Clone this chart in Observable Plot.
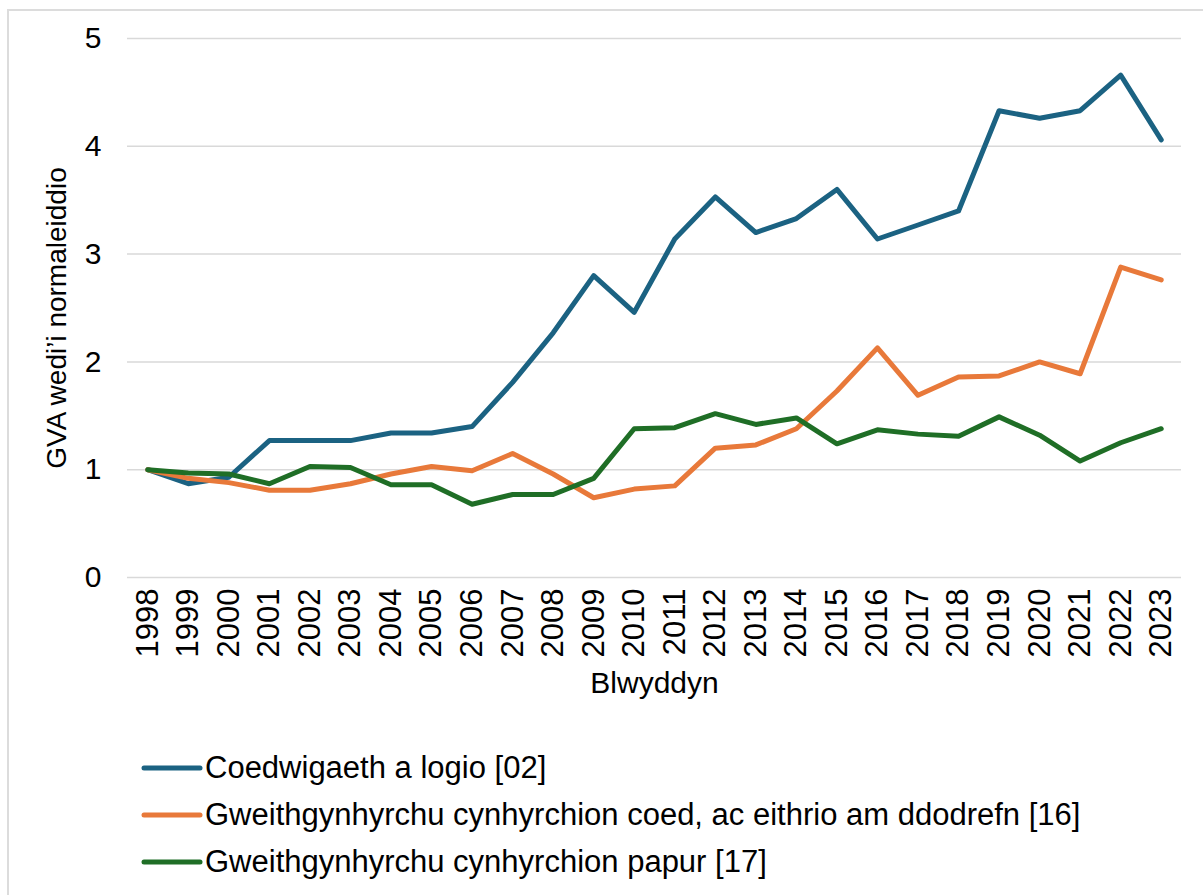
<!DOCTYPE html>
<html>
<head>
<meta charset="utf-8">
<script src="https://cdn.jsdelivr.net/npm/d3@7"></script>
<script src="https://cdn.jsdelivr.net/npm/@observablehq/plot@0.6"></script>
<style>
  body { margin: 0; background: #fff; font-family: "Liberation Sans", Arial, sans-serif; }
  #wrap { position: relative; width: 1203px; height: 895px; overflow: hidden; }
  #frame { position: absolute; left: 7px; top: 9px; width: 1300px; height: 1000px;
           border-left: 2px solid #dcdcdc; border-top: 2px solid #dcdcdc; pointer-events: none; }
  #legend { padding-left: 141px; padding-top: 24px; }
  .row { display: flex; align-items: center; height: 47px; font-size: 31px; color: #000; white-space: nowrap; }
  .row svg { margin-right: 2px; }
</style>
</head>
<body>
<div id="wrap"><div id="frame"></div><div id="chart"></div><div id="legend"></div></div>
<script>
const years = ["1998","1999","2000","2001","2002","2003","2004","2005","2006","2007","2008","2009","2010",
               "2011","2012","2013","2014","2015","2016","2017","2018","2019","2020","2021","2022","2023"];
const seriesNames = [
  "Coedwigaeth a logio [02]",
  "Gweithgynhyrchu cynhyrchion coed, ac eithrio am ddodrefn [16]",
  "Gweithgynhyrchu cynhyrchion papur [17]"
];
const forestry = [1.00,0.87,0.93,1.27,1.27,1.27,1.34,1.34,1.40,1.81,2.27,2.80,2.46,
                  3.14,3.53,3.20,3.33,3.60,3.14,3.27,3.40,4.33,4.26,4.33,4.66,4.06];
const wood     = [1.00,0.92,0.88,0.81,0.81,0.87,0.96,1.03,0.99,1.15,0.96,0.74,0.82,
                  0.85,1.20,1.23,1.38,1.73,2.13,1.69,1.86,1.87,2.00,1.89,2.88,2.76];
const paper    = [1.00,0.97,0.96,0.87,1.03,1.02,0.86,0.86,0.68,0.77,0.77,0.92,1.38,
                  1.39,1.52,1.42,1.48,1.24,1.37,1.33,1.31,1.49,1.32,1.08,1.25,1.38];
const yTicks = [0,1,2,3,4,5];
const colors = ["#1b6282","#e8793a","#1f6e26"];
const yTitle = "GVA wedi\u2019i normaleiddio";
const xTitle = "Blwyddyn";

const allSeries = [forestry, wood, paper];
const table = allSeries.flatMap((vals, s) =>
  vals.map((v, i) => ({year: years[i], value: v, series: seriesNames[s]})));

const chart = Plot.plot({
  width: 1203,
  height: 720,
  marginTop: 38,
  marginLeft: 127,
  marginRight: 22,
  marginBottom: 143,
  style: {fontFamily: "'Liberation Sans', Arial, sans-serif", background: "transparent", color: "#000"},
  x: {type: "point", domain: years, padding: 0.5, round: false},
  y: {domain: [0, 5]},
  color: {domain: seriesNames, range: colors},
  marks: [
    Plot.gridY(yTicks, {stroke: "#d9d9d9", strokeOpacity: 1, strokeWidth: 1.5}),
    Plot.axisY(yTicks, {tickSize: 0, tickPadding: 26, fontSize: 30, tickFormat: d3.format("d"), label: null}),
    Plot.axisX(years, {tickSize: 0, tickPadding: 11, tickRotate: -90, fontSize: 31, label: null}),
    Plot.text([yTitle], {text: d => d, frameAnchor: "left", textAnchor: "middle", lineAnchor: "middle",
                         rotate: -90, dx: -70, dy: 10, fontSize: 28}),
    Plot.text([xTitle], {text: d => d, frameAnchor: "bottom", textAnchor: "middle", dy: 115, fontSize: 30}),
    Plot.line(table, {x: "year", y: "value", z: "series", stroke: "series",
                      strokeWidth: 5, strokeLinejoin: "round", strokeLinecap: "round"})
  ]
});
document.getElementById("chart").appendChild(chart);

const legend = document.getElementById("legend");
seriesNames.forEach((name, i) => {
  const row = document.createElement("div");
  row.className = "row";
  row.innerHTML = `<svg width="62" height="10"><line x1="3" y1="5" x2="59" y2="5" stroke="${colors[i]}" stroke-width="5" stroke-linecap="round"/></svg><span>${name}</span>`;
  legend.appendChild(row);
});
</script>
</body>
</html>
